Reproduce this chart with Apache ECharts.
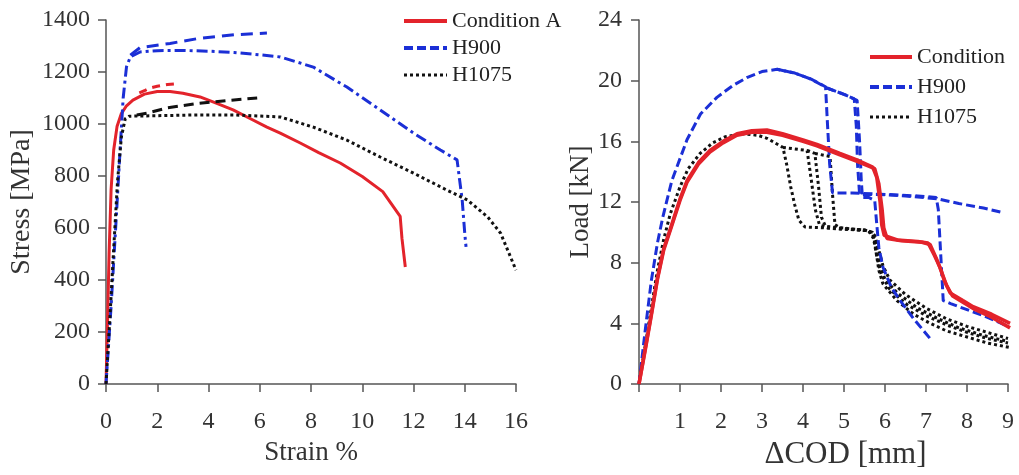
<!DOCTYPE html>
<html><head><meta charset="utf-8">
<script src="https://cdn.jsdelivr.net/npm/echarts@6/dist/echarts.min.js"></script>
<style>html,body{margin:0;padding:0;background:#fff}#c{width:1019px;height:475px}</style>
</head><body><div id="c"></div>
<script>
// ---------- Left chart: Stress vs Strain ----------
const strainTicks = [0, 2, 4, 6, 8, 10, 12, 14, 16];
const stressTicks = [0, 200, 400, 600, 800, 1000, 1200, 1400];
const condA_main = [[0,0],[0.05,200],[0.12,500],[0.2,750],[0.3,900],[0.43,990],[0.6,1040],[0.8,1070],[1.05,1092],[1.5,1115],[2.0,1125],[2.5,1125],[3.0,1118],[3.67,1104],[4.3,1080],[4.96,1054],[5.6,1022],[6.28,988],[6.8,965],[7.58,927],[8.3,890],[9.14,850],[10.0,798],[10.8,740],[11.48,645],[11.55,560],[11.68,450]];
const condA_second = [[1.3,1120],[1.5,1128],[1.7,1138],[2.0,1145],[2.4,1152],[2.8,1155]];
const h900_main = [[0,0],[0.2,300],[0.4,640],[0.55,900],[0.67,1100],[0.8,1220],[0.95,1258],[1.33,1277],[2,1282],[3,1283],[4,1280],[5,1275],[6,1266],[6.8,1258],[8.09,1219],[9.4,1142],[10.7,1054],[12.0,965],[13.05,900],[13.7,862],[13.9,708],[14.0,580],[14.05,527]];
const h900_second = [[0.95,1265],[1.33,1294],[2.5,1310],[3.67,1330],[5,1343],[6.28,1350]];
const h1075_main = [[0,0],[0.15,250],[0.3,520],[0.45,780],[0.6,950],[0.75,1020],[0.9,1030],[2,1032],[3.67,1035],[5,1035],[6.8,1027],[8.09,988],[9.4,938],[10.7,873],[12.0,811],[13.3,746],[14.1,708],[14.9,642],[15.4,580],[16.0,438]];
const h1075_second = [[1.2,1035],[1.6,1042],[2.4,1062],[3.5,1078],[4.7,1090],[5.9,1100]];

// ---------- Right chart: Load vs ΔCOD ----------
const codTicks = [1, 2, 3, 4, 5, 6, 7, 8, 9];
const loadTicks = [0, 4, 8, 12, 16, 20, 24];
const rCond1 = [[0,0],[0.15,2.3],[0.3,4.6],[0.45,7.0],[0.6,8.9],[0.76,10.2],[1.0,12.2],[1.17,13.4],[1.45,14.6],[1.73,15.4],[2.05,16.0],[2.39,16.5],[2.75,16.7],[3.12,16.75],[3.5,16.5],[4.0,16.1],[4.34,15.8],[4.9,15.2],[5.3,14.8],[5.7,14.3],[5.8,13.6],[5.88,12.0],[5.92,10.5],[5.98,9.8],[6.3,9.5],[6.8,9.4],[7.05,9.3],[7.2,8.5],[7.34,7.7],[7.45,6.8],[7.59,6.0],[7.9,5.5],[8.15,5.1],[8.6,4.6],[9.05,4.0]];
const rCond2 = [[0,0],[0.15,2.2],[0.3,4.5],[0.45,6.9],[0.6,8.8],[0.76,10.1],[1.0,12.1],[1.17,13.3],[1.45,14.5],[1.73,15.3],[2.05,15.9],[2.39,16.4],[2.75,16.6],[3.12,16.6],[3.5,16.4],[4.0,16.0],[4.34,15.7],[4.9,15.1],[5.3,14.7],[5.75,14.2],[5.85,13.2],[5.93,11.5],[5.97,10.3],[6.05,9.6],[6.4,9.45],[6.9,9.35],[7.1,9.2],[7.25,8.3],[7.38,7.4],[7.5,6.5],[7.65,5.8],[7.95,5.3],[8.2,4.9],[8.6,4.4],[9.05,3.7]];
const rH900a = [[0,0],[0.15,3.5],[0.3,6.8],[0.45,9.3],[0.58,11.0],[0.8,13.4],[1.17,16.1],[1.5,17.8],[1.9,18.9],[2.3,19.7],[2.63,20.2],[3.0,20.6],[3.37,20.75],[3.8,20.5],[4.2,20.1],[4.55,19.6],[4.6,17],[4.65,14.5],[4.72,12.6],[5.2,12.6],[6.0,12.5],[6.8,12.4],[7.25,12.3],[7.3,11.5],[7.34,9.5],[7.38,7.5],[7.42,5.5],[7.6,5.3],[8.0,4.9],[8.5,4.4],[9.0,3.8]];
const rH900b = [[3.37,20.75],[3.8,20.5],[4.2,20.1],[4.6,19.5],[5.0,19.1],[5.25,18.8],[5.3,17],[5.33,14.5],[5.38,12.5],[5.8,12.5],[6.5,12.4],[7.3,12.2],[7.8,11.9],[8.4,11.6],[8.88,11.3]];
const rH900c = [[4.6,19.5],[5.0,19.1],[5.32,18.7],[5.38,16],[5.42,13.5],[5.45,12.3],[5.6,12.3],[5.75,12.1],[5.8,10.5],[5.85,9.0],[5.95,7.7],[6.15,6.4],[6.37,5.5],[6.7,4.3],[7.1,3.0]];
const rH1075a = [[0,0],[0.15,2.5],[0.3,5.0],[0.45,7.5],[0.6,9.5],[0.76,11.2],[1.0,13.0],[1.2,14.2],[1.49,15.2],[1.8,15.9],[2.1,16.3],[2.5,16.5],[2.9,16.4],[3.12,16.2],[3.51,15.6],[3.6,14.5],[3.7,13.0],[3.8,11.8],[3.9,10.8],[4.05,10.35],[4.5,10.3],[5.0,10.2],[5.5,10.15],[5.7,9.95],[5.75,9.3],[5.85,7.5],[5.95,6.6],[6.29,5.5],[6.7,4.6],[7.1,4.0],[7.5,3.5],[8.0,3.1],[8.5,2.7],[9.05,2.4]];
const rH1075b = [[3.51,15.6],[3.8,15.5],[4.1,15.4],[4.2,13.5],[4.3,11.5],[4.4,10.5],[4.6,10.3],[5.2,10.2],[5.6,10.1],[5.72,9.6],[5.8,8.4],[5.9,7.3],[6.1,6.3],[6.5,5.3],[7.0,4.5],[7.5,3.9],[8.0,3.4],[8.5,3.0],[9.0,2.7]];
const rH1075c = [[4.1,15.4],[4.29,15.2],[4.38,13.0],[4.45,11.0],[4.55,10.4],[5.0,10.25],[5.6,10.1],[5.75,9.8],[5.85,8.8],[5.95,7.8],[6.12,6.85],[6.5,5.9],[7.0,5.0],[7.5,4.3],[8.0,3.8],[8.5,3.4],[9.0,3.0]];
const rH1075d = [[4.29,15.2],[4.66,15.0],[4.72,12.5],[4.78,10.5],[4.9,10.3],[5.5,10.15],[5.7,10.0],[5.78,9.2],[5.88,7.8],[6.0,6.9],[6.3,6.0],[6.8,5.0],[7.3,4.3],[7.8,3.7],[8.4,3.2],[9.0,2.8]];

const RED = '#e3232b', BLUE = '#1b2fd6', BLACK = '#111111';
const FONT = 'Liberation Serif';
const DOTTED = [3, 3], DASHDOT = [11, 4, 3, 4], DASHED = [9, 4];

function axisCommon(extra) {
  return Object.assign({
    type: 'value',
    axisLine: { show: true, lineStyle: { color: '#555', width: 1.5 } },
    axisTick: { show: true, inside: false, length: 8, lineStyle: { color: '#555', width: 1.5 } },
    splitLine: { show: false },
    nameLocation: 'middle',
    nameTextStyle: { fontFamily: FONT, fontSize: 27, color: '#333' }
  }, extra);
}
function lbl(margin, fmt) {
  return { fontFamily: FONT, fontSize: 24, color: '#333', margin: margin, formatter: fmt || (v => String(v)) };
}
function ln(name, data, color, type, xi, yi, w) {
  return { type: 'line', name: name, data: data, xAxisIndex: xi, yAxisIndex: yi,
    symbol: 'none', showSymbol: false, smooth: false, silent: true,
    lineStyle: { color: color, width: w || 3, type: type, cap: 'butt' }, itemStyle: { color: color } };
}
function legItem(name, color, type, width) {
  return { name: name, lineStyle: { color: color, type: type, width: width, opacity: 1 },
    itemStyle: { opacity: 0, color: 'transparent', borderWidth: 0 } };
}

const chart = echarts.init(document.getElementById('c'), null, { renderer: 'canvas' });
chart.setOption({
  animation: false,
  backgroundColor: '#fff',
  grid: [
    { left: 106, top: 20, width: 410, height: 364 },
    { left: 639, top: 20, width: 369, height: 364 }
  ],
  xAxis: [
    axisCommon({ gridIndex: 0, min: strainTicks[0], max: strainTicks[strainTicks.length - 1], interval: 2,
      name: 'Strain %', nameGap: 55, axisLabel: lbl(26) }),
    axisCommon({ gridIndex: 1, min: 0, max: codTicks[codTicks.length - 1], interval: 1,
      name: 'ΔCOD [mm]', nameGap: 50,
      nameTextStyle: { fontFamily: FONT, fontSize: 31, color: '#333', padding: [0, 0, 0, 44] },
      axisLabel: lbl(26, v => codTicks.indexOf(v) >= 0 ? String(v) : '') })
  ],
  yAxis: [
    axisCommon({ gridIndex: 0, min: stressTicks[0], max: stressTicks[stressTicks.length - 1], interval: 200,
      name: 'Stress [MPa]', nameGap: 70, nameTextStyle: { fontFamily: FONT, fontSize: 28, color: '#333' },
      axisLabel: lbl(16) }),
    axisCommon({ gridIndex: 1, min: loadTicks[0], max: loadTicks[loadTicks.length - 1], interval: 4,
      name: 'Load [kN]', nameGap: 45, axisLabel: lbl(17) })
  ],
  legend: [
    { left: 402, top: 10, padding: 0, orient: 'vertical', itemWidth: 43, itemHeight: 14, itemGap: 5,
      selectedMode: false,
      textStyle: { fontFamily: FONT, fontSize: 22, color: '#222' },
      data: [
        legItem('Condition A', RED, 'solid', 4),
        legItem('H900', BLUE, DASHED, 4),
        legItem('H1075', BLACK, DOTTED, 3)
      ] },
    { left: 868, top: 46, padding: 0, orient: 'vertical', itemWidth: 42, itemHeight: 14, itemGap: 8,
      selectedMode: false,
      textStyle: { fontFamily: FONT, fontSize: 22, color: '#222' },
      data: [
        legItem('Condition', RED, 'solid', 4),
        legItem('H900', BLUE, DASHED, 4),
        legItem('H1075', BLACK, DOTTED, 3)
      ] }
  ],
  series: [
    ln('Condition A', condA_main, RED, 'solid', 0, 0, 3),
    ln('H900', h900_main, BLUE, DASHDOT, 0, 0, 3),
    ln('H1075', h1075_main, BLACK, DOTTED, 0, 0, 3),
    ln('Condition A', condA_second, RED, [8, 6], 0, 0, 3),
    ln('H900', h900_second, BLUE, [12, 7], 0, 0, 3),
    ln('H1075', h1075_second, BLACK, [10, 6], 0, 0, 3),

    ln('H1075', rH1075a, BLACK, DOTTED, 1, 1, 3),
    ln('H1075', rH1075b, BLACK, DOTTED, 1, 1, 3),
    ln('H1075', rH1075c, BLACK, DOTTED, 1, 1, 3),
    ln('H1075', rH1075d, BLACK, DOTTED, 1, 1, 3),
    ln('H900', rH900a, BLUE, DASHED, 1, 1, 3),
    ln('H900', rH900b, BLUE, DASHED, 1, 1, 3),
    ln('H900', rH900c, BLUE, DASHED, 1, 1, 3),
    ln('Condition', rCond1, RED, 'solid', 1, 1, 3.5),
    ln('Condition', rCond2, RED, 'solid', 1, 1, 3.5)
  ]
});
</script>
</body></html>
